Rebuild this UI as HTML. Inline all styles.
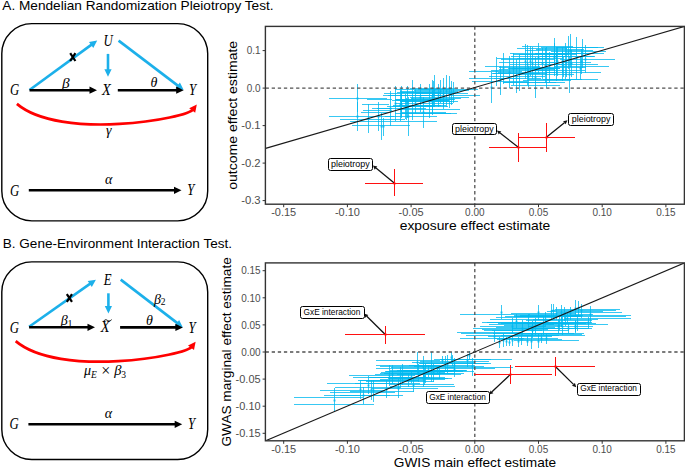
<!DOCTYPE html>
<html><head><meta charset="utf-8"><style>
html,body{margin:0;padding:0;background:#fff;width:685px;height:467px;overflow:hidden}
svg{display:block}
</style></head><body>
<svg width="685" height="467" viewBox="0 0 685 467">
<text x="2.3" y="10.3" font-size="13.4" font-family='"Liberation Sans", sans-serif' fill="#000" text-anchor="start" textLength="271.3" lengthAdjust="spacingAndGlyphs">A. Mendelian Randomization Pleiotropy Test.</text><text x="2.8" y="247.5" font-size="13.4" font-family='"Liberation Sans", sans-serif' fill="#000" text-anchor="start" textLength="229.2" lengthAdjust="spacingAndGlyphs">B. Gene-Environment Interaction Test.</text><rect x="1.8" y="23.6" width="205.9" height="197.3" rx="30" fill="none" stroke="#000" stroke-width="1.4"/><text transform="translate(9.9,94.9) scale(0.8,1)" font-size="16" font-family='"Liberation Serif", serif' font-style="italic">G</text><text transform="translate(103.5,45.6) scale(0.8,1)" font-size="16" font-family='"Liberation Serif", serif' font-style="italic">U</text><text transform="translate(102,94.6) scale(0.9,1)" font-size="16" font-family='"Liberation Serif", serif' font-style="italic">X</text><text transform="translate(189,94.6) scale(0.8,1)" font-size="16" font-family='"Liberation Serif", serif' font-style="italic">Y</text><line x1="29.5" y1="90" x2="91.9" y2="44.4" stroke="#1cb0ea" stroke-width="2.6"/><path d="M97.2 40.6L89.0 42.1L93.3 47.9Z" fill="#1cb0ea"/><line x1="108" y1="53.9" x2="108.0" y2="70.2" stroke="#1cb0ea" stroke-width="2.6"/><path d="M108 76.7L111.6 69.2L104.4 69.2Z" fill="#1cb0ea"/><line x1="118.6" y1="40.6" x2="178.5" y2="86.1" stroke="#1cb0ea" stroke-width="2.6"/><path d="M183.7 90L179.9 82.6L175.5 88.3Z" fill="#1cb0ea"/><line x1="29.5" y1="90.2" x2="90.5" y2="90.2" stroke="#000" stroke-width="2.6"/><path d="M97 90.2L89.5 86.6L89.5 93.8Z" fill="#000"/><line x1="117.8" y1="90.2" x2="177.2" y2="90.2" stroke="#000" stroke-width="2.6"/><path d="M183.7 90.2L176.2 86.6L176.2 93.8Z" fill="#000"/><path d="M70.2 53.2L75.4 61.0M75.4 53.2L70.2 61.0" stroke="#000" stroke-width="2.2"/><text x="62" y="87.6" font-size="15.3" font-family='"Liberation Serif", serif' font-style="italic">β</text><text x="150.5" y="86.8" font-size="14" font-family='"Liberation Serif", serif' font-style="italic">θ</text><path d="M16.9 103.9C60.5 140.8 187.8 118.8 193.5 109" stroke="#f00" stroke-width="2.7" fill="none"/><path d="M196.8 104.6L189.2 108.3L195.2 112.8Z" fill="#f00"/><text x="106" y="135" font-size="14" font-family='"Liberation Serif", serif' font-style="italic">γ</text><text transform="translate(10,195.6) scale(0.8,1)" font-size="16" font-family='"Liberation Serif", serif' font-style="italic">G</text><text transform="translate(187.3,194.8) scale(0.8,1)" font-size="16" font-family='"Liberation Serif", serif' font-style="italic">Y</text><line x1="28.8" y1="190.3" x2="175.0" y2="190.3" stroke="#000" stroke-width="2.6"/><path d="M181.5 190.3L174.0 186.7L174.0 193.9Z" fill="#000"/><text x="105" y="184" font-size="14" font-family='"Liberation Serif", serif' font-style="italic">α</text><rect x="1.8" y="261.90000000000003" width="205.9" height="197.6" rx="30" fill="none" stroke="#000" stroke-width="1.4"/><text transform="translate(9.7,332.5) scale(0.8,1)" font-size="16" font-family='"Liberation Serif", serif' font-style="italic">G</text><text transform="translate(103.7,284.7) scale(0.8,1)" font-size="16" font-family='"Liberation Serif", serif' font-style="italic">E</text><text transform="translate(100.8,332.4) scale(0.9,1)" font-size="16" font-family='"Liberation Serif", serif' font-style="italic">X</text><path d="M103.6 321.6C104.6 319.2 106.4 319.6 107.8 320.6C109 321.4 110.3 320.8 111.6 319.7" stroke="#000" stroke-width="1" fill="none"/><text transform="translate(188.5,332.5) scale(0.8,1)" font-size="16" font-family='"Liberation Serif", serif' font-style="italic">Y</text><line x1="29.1" y1="326.8" x2="90.6" y2="283.4" stroke="#1cb0ea" stroke-width="2.6"/><path d="M95.9 279.7L87.7 281.1L91.8 287.0Z" fill="#1cb0ea"/><line x1="108.4" y1="293.3" x2="108.4" y2="306.9" stroke="#1cb0ea" stroke-width="2.6"/><path d="M108.4 313.4L112.0 305.9L104.8 305.9Z" fill="#1cb0ea"/><line x1="120.7" y1="279.6" x2="177.7" y2="323.4" stroke="#1cb0ea" stroke-width="2.6"/><path d="M182.9 327.4L179.1 320.0L174.8 325.7Z" fill="#1cb0ea"/><line x1="29.1" y1="327.3" x2="88.5" y2="327.3" stroke="#000" stroke-width="2.6"/><path d="M95 327.3L87.5 323.7L87.5 330.9Z" fill="#000"/><line x1="120.1" y1="327.4" x2="176.4" y2="327.4" stroke="#000" stroke-width="2.6"/><path d="M182.9 327.4L175.4 323.8L175.4 331.0Z" fill="#000"/><path d="M66.8 294.1L72.0 301.9M72.0 294.1L66.8 301.9" stroke="#000" stroke-width="2.2"/><text x="60.8" y="324.5" font-size="14" font-family='"Liberation Serif", serif' font-style="italic">β</text><text x="67.5" y="327" font-size="10" font-family='"Liberation Serif", serif'>1</text><text x="154" y="303.5" font-size="14" font-family='"Liberation Serif", serif' font-style="italic">β</text><text x="160.7" y="305" font-size="9.5" font-family='"Liberation Serif", serif'>2</text><text x="146" y="325" font-size="14" font-family='"Liberation Serif", serif' font-style="italic">θ</text><g transform="translate(-1.2,237.2)"><path d="M16.9 103.9C60.5 140.8 187.8 118.8 193.5 109" stroke="#f00" stroke-width="2.7" fill="none"/><path d="M196.8 104.6L189.2 108.3L195.2 112.8Z" fill="#f00"/></g><text x="84" y="375" font-size="14" font-family='"Liberation Serif", serif' font-style="italic">μ</text><text x="91" y="377.5" font-size="9.5" font-family='"Liberation Serif", serif' font-style="italic">E</text><text x="101.3" y="375.6" font-size="16" font-family='"Liberation Serif", serif'>×</text><text x="114.2" y="375" font-size="14.5" font-family='"Liberation Serif", serif' font-style="italic">β</text><text x="121.2" y="377.5" font-size="9.5" font-family='"Liberation Serif", serif'>3</text><text transform="translate(9.5,428.9) scale(0.8,1)" font-size="16" font-family='"Liberation Serif", serif' font-style="italic">G</text><text transform="translate(188,429) scale(0.8,1)" font-size="16" font-family='"Liberation Serif", serif' font-style="italic">Y</text><line x1="28.4" y1="424.3" x2="175.7" y2="424.3" stroke="#000" stroke-width="2.6"/><path d="M182.2 424.3L174.7 420.7L174.7 427.9Z" fill="#000"/><text x="104.8" y="418" font-size="14" font-family='"Liberation Serif", serif' font-style="italic">α</text><clipPath id="ca"><rect x="265.6" y="26.4" width="418.79999999999995" height="177.79999999999998"/></clipPath><g clip-path="url(#ca)"><g stroke="#00b8f0" stroke-width="1" stroke-opacity="0.78" fill="none"><path d="M357.5 84V112"/><path d="M357.5 102V131"/><path d="M368.5 104V133"/><path d="M378.5 102V131"/><path d="M381.5 113V140"/><path d="M383.5 118V136"/><path d="M390.5 91V126"/><path d="M395.5 86V121"/><path d="M401.5 92V118"/><path d="M408.5 97V136"/><path d="M412.5 80V120"/><path d="M415.5 89V113"/><path d="M420.5 84V112"/><path d="M423.5 97V128"/><path d="M429.5 84V118"/><path d="M432.5 80V113"/><path d="M434.5 75V105"/><path d="M438.5 84V107"/><path d="M443.5 86V107"/><path d="M446.5 75V107"/><path d="M449.5 76V108"/><path d="M451.5 81V105"/><path d="M453.5 82V103"/><path d="M432.5 91V115"/><path d="M400.5 89V121"/><path d="M440.5 80V103"/><path d="M401.5 86V116"/><path d="M405.5 94V119"/><path d="M406.5 98V120"/><path d="M433.5 81V106"/><path d="M407.5 86V118"/><path d="M443.5 78V109"/><path d="M395 89.5H451"/><path d="M400 91.5H458"/><path d="M384 93.5H453"/><path d="M420 95.5H480"/><path d="M388 95.5H440"/><path d="M410 97.5H469"/><path d="M329 98.5H387"/><path d="M395 99.5H455"/><path d="M367 99.5H392"/><path d="M400 101.5H458"/><path d="M395 103.5H453"/><path d="M362 104.5H389"/><path d="M392 106.5H448"/><path d="M372 108.5H392"/><path d="M400 109.5H460"/><path d="M363 110.5H392"/><path d="M361 112.5H388"/><path d="M395 113.5H451"/><path d="M329 116.5H394"/><path d="M385 116.5H437"/><path d="M340 119.5H405"/><path d="M350 121.5H437"/><path d="M352 125.5H410"/><path d="M395 99.5H454"/><path d="M396 100.5H449"/><path d="M402 92.5H456"/><path d="M377 108.5H426"/><path d="M414 90.5H469"/><path d="M418 89.5H478"/><path d="M399 105.5H446"/><path d="M410 88.5H455"/><path d="M397 92.5H441"/><path d="M392 100.5H449"/><path d="M400 101.5H452"/><path d="M393 105.5H441"/><path d="M400 113.5H457"/><path d="M387 106.5H435"/><path d="M383 95.5H439"/><path d="M411 98.5H461"/><path d="M402 112.5H446"/><path d="M416 93.5H468"/></g><g fill="#00b8f0" fill-opacity="0.78"><rect x="356.5" y="97.5" width="2" height="2"/><rect x="356.5" y="115.5" width="2" height="2"/><rect x="367.5" y="117.5" width="2" height="2"/><rect x="377.5" y="115.5" width="2" height="2"/><rect x="380.5" y="125.5" width="2" height="2"/><rect x="382.5" y="125.5" width="2" height="2"/><rect x="389.5" y="107.5" width="2" height="2"/><rect x="394.5" y="102.5" width="2" height="2"/><rect x="400.5" y="103.5" width="2" height="2"/><rect x="407.5" y="115.5" width="2" height="2"/><rect x="411.5" y="98.5" width="2" height="2"/><rect x="414.5" y="100.5" width="2" height="2"/><rect x="419.5" y="96.5" width="2" height="2"/><rect x="422.5" y="111.5" width="2" height="2"/><rect x="428.5" y="100.5" width="2" height="2"/><rect x="431.5" y="95.5" width="2" height="2"/><rect x="433.5" y="88.5" width="2" height="2"/><rect x="437.5" y="94.5" width="2" height="2"/><rect x="442.5" y="95.5" width="2" height="2"/><rect x="445.5" y="90.5" width="2" height="2"/><rect x="448.5" y="91.5" width="2" height="2"/><rect x="450.5" y="92.5" width="2" height="2"/><rect x="452.5" y="91.5" width="2" height="2"/><rect x="431.5" y="101.5" width="2" height="2"/><rect x="399.5" y="103.5" width="2" height="2"/><rect x="439.5" y="90.5" width="2" height="2"/><rect x="400.5" y="99.5" width="2" height="2"/><rect x="404.5" y="105.5" width="2" height="2"/><rect x="405.5" y="107.5" width="2" height="2"/><rect x="432.5" y="92.5" width="2" height="2"/><rect x="406.5" y="101.5" width="2" height="2"/><rect x="442.5" y="92.5" width="2" height="2"/></g><g stroke="#00b8f0" stroke-width="1" stroke-opacity="0.78" fill="none"><path d="M491.5 72V103"/><path d="M496.5 57V86"/><path d="M500.5 66V95"/><path d="M509.5 56V88"/><path d="M513.5 53V85"/><path d="M516.5 59V93"/><path d="M519.5 55V91"/><path d="M525.5 44V79"/><path d="M527.5 45V85"/><path d="M530.5 46V76"/><path d="M532.5 47V79"/><path d="M535.5 57V98"/><path d="M538.5 43V73"/><path d="M542.5 48V79"/><path d="M545.5 48V83"/><path d="M546.5 47V88"/><path d="M554.5 38V76"/><path d="M556.5 54V81"/><path d="M562.5 47V81"/><path d="M565.5 43V79"/><path d="M568.5 36V69"/><path d="M569.5 56V93"/><path d="M570.5 34V67"/><path d="M576.5 37V79"/><path d="M580.5 57V79"/><path d="M585.5 45V73"/><path d="M562.5 51V73"/><path d="M503.5 53V84"/><path d="M563.5 57V77"/><path d="M557.5 47V76"/><path d="M528.5 66V87"/><path d="M549.5 52V83"/><path d="M566.5 48V77"/><path d="M582.5 39V68"/><path d="M581.5 49V74"/><path d="M571.5 50V77"/><path d="M556.5 47V74"/><path d="M554.5 43V71"/><path d="M541 47.5H598"/><path d="M525 50.5H593"/><path d="M551 51.5H606"/><path d="M510 53.5H565"/><path d="M535 53.5H590"/><path d="M511 56.5H565"/><path d="M540 56.5H595"/><path d="M497 58.5H550"/><path d="M501 59.5H555"/><path d="M560 59.5H615"/><path d="M499 62.5H555"/><path d="M536 62.5H591"/><path d="M510 64.5H565"/><path d="M545 64.5H598"/><path d="M485 66.5H540"/><path d="M555 66.5H609"/><path d="M499 69.5H555"/><path d="M530 70.5H585"/><path d="M469 71.5H522"/><path d="M546 72.5H601"/><path d="M492 73.5H547"/><path d="M520 74.5H574"/><path d="M489 76.5H545"/><path d="M469 78.5H520"/><path d="M543 79.5H598"/><path d="M472 81.5H527"/><path d="M503 82.5H565"/><path d="M511 85.5H560"/><path d="M519 54.5H577"/><path d="M491 70.5H550"/><path d="M513 54.5H569"/><path d="M517 58.5H562"/><path d="M536 49.5H584"/><path d="M509 68.5H560"/><path d="M503 82.5H556"/><path d="M494 78.5H541"/><path d="M523 80.5H571"/><path d="M535 53.5H594"/><path d="M546 53.5H604"/><path d="M514 68.5H560"/><path d="M556 47.5H604"/><path d="M498 72.5H555"/><path d="M508 68.5H555"/><path d="M493 73.5H540"/><path d="M532 67.5H586"/><path d="M547 56.5H594"/><path d="M522 46.5H573"/><path d="M517 48.5H567"/><path d="M499 67.5H549"/><path d="M528 79.5H582"/></g><g fill="#00b8f0" fill-opacity="0.78"><rect x="490.5" y="86.5" width="2" height="2"/><rect x="495.5" y="70.5" width="2" height="2"/><rect x="499.5" y="79.5" width="2" height="2"/><rect x="508.5" y="71.5" width="2" height="2"/><rect x="512.5" y="67.5" width="2" height="2"/><rect x="515.5" y="75.5" width="2" height="2"/><rect x="518.5" y="72.5" width="2" height="2"/><rect x="524.5" y="60.5" width="2" height="2"/><rect x="526.5" y="63.5" width="2" height="2"/><rect x="529.5" y="60.5" width="2" height="2"/><rect x="531.5" y="62.5" width="2" height="2"/><rect x="534.5" y="76.5" width="2" height="2"/><rect x="537.5" y="56.5" width="2" height="2"/><rect x="541.5" y="62.5" width="2" height="2"/><rect x="544.5" y="64.5" width="2" height="2"/><rect x="545.5" y="66.5" width="2" height="2"/><rect x="553.5" y="56.5" width="2" height="2"/><rect x="555.5" y="66.5" width="2" height="2"/><rect x="561.5" y="63.5" width="2" height="2"/><rect x="564.5" y="60.5" width="2" height="2"/><rect x="567.5" y="51.5" width="2" height="2"/><rect x="568.5" y="73.5" width="2" height="2"/><rect x="569.5" y="49.5" width="2" height="2"/><rect x="575.5" y="57.5" width="2" height="2"/><rect x="579.5" y="67.5" width="2" height="2"/><rect x="584.5" y="58.5" width="2" height="2"/><rect x="561.5" y="60.5" width="2" height="2"/><rect x="502.5" y="67.5" width="2" height="2"/><rect x="562.5" y="65.5" width="2" height="2"/><rect x="556.5" y="60.5" width="2" height="2"/><rect x="527.5" y="75.5" width="2" height="2"/><rect x="548.5" y="66.5" width="2" height="2"/><rect x="565.5" y="61.5" width="2" height="2"/><rect x="581.5" y="52.5" width="2" height="2"/><rect x="580.5" y="60.5" width="2" height="2"/><rect x="570.5" y="62.5" width="2" height="2"/><rect x="555.5" y="59.5" width="2" height="2"/><rect x="553.5" y="55.5" width="2" height="2"/></g><line x1="265.6" y1="88.1" x2="684.4" y2="88.1" stroke="#505050" stroke-width="1.3" stroke-dasharray="3.3 2.8"/><line x1="474.8" y1="26.4" x2="474.8" y2="204.2" stroke="#505050" stroke-width="1.3" stroke-dasharray="3.3 2.8"/><line x1="265.6" y1="148.4" x2="684.4" y2="26.4" stroke="#1a1a1a" stroke-width="1.1"/><line x1="394.5" y1="183.2" x2="376.0" y2="168.1" stroke="#111" stroke-width="1.25"/><path d="M372.9 165.6L374.7 169.7L377.3 166.6Z" fill="#111"/><line x1="518" y1="147" x2="500.1" y2="133.1" stroke="#111" stroke-width="1.25"/><path d="M496.9 130.6L498.8 134.6L501.3 131.5Z" fill="#111"/><line x1="546.4" y1="137.3" x2="564.4" y2="122.7" stroke="#111" stroke-width="1.25"/><path d="M567.5 120.2L563.1 121.2L565.7 124.3Z" fill="#111"/><path d="M365 183.5H423M394.5 169V196" stroke="#ff1010" stroke-width="1" fill="none"/><rect x="393.5" y="182.5" width="2" height="2" fill="#ff1010"/><path d="M489 147.5H546M518.5 133V162" stroke="#ff1010" stroke-width="1" fill="none"/><rect x="517.5" y="146.5" width="2" height="2" fill="#ff1010"/><path d="M518 137.5H575M546.5 123V152" stroke="#ff1010" stroke-width="1" fill="none"/><rect x="545.5" y="136.5" width="2" height="2" fill="#ff1010"/><rect x="328.5" y="158.5" width="44" height="12" rx="2" fill="#fff" stroke="#000" stroke-width="1"/><text x="331.0" y="166.9" font-size="8.6" font-family='"Liberation Sans", sans-serif' fill="#000" text-anchor="start" textLength="38.6" lengthAdjust="spacingAndGlyphs">pleiotropy</text><rect x="452.5" y="123.5" width="44" height="11" rx="2" fill="#fff" stroke="#000" stroke-width="1"/><text x="455.0" y="131.6" font-size="8.6" font-family='"Liberation Sans", sans-serif' fill="#000" text-anchor="start" textLength="38.6" lengthAdjust="spacingAndGlyphs">pleiotropy</text><rect x="568.5" y="113.5" width="45" height="12" rx="2" fill="#fff" stroke="#000" stroke-width="1"/><text x="571.8" y="121.9" font-size="8.6" font-family='"Liberation Sans", sans-serif' fill="#000" text-anchor="start" textLength="38.6" lengthAdjust="spacingAndGlyphs">pleiotropy</text></g><rect x="265.40000000000003" y="26.4" width="418.99999999999994" height="177.79999999999998" fill="none" stroke="#333" stroke-width="1.4"/><line x1="262.6" y1="50.6" x2="265.6" y2="50.6" stroke="#333" stroke-width="1"/><text x="260.6" y="54.3" font-size="10" font-family='"Liberation Sans", sans-serif' fill="#4d4d4d" text-anchor="end" textLength="13.799999999999999" lengthAdjust="spacingAndGlyphs">0.1</text><line x1="262.6" y1="88.1" x2="265.6" y2="88.1" stroke="#333" stroke-width="1"/><text x="260.6" y="91.8" font-size="10" font-family='"Liberation Sans", sans-serif' fill="#4d4d4d" text-anchor="end" textLength="13.799999999999999" lengthAdjust="spacingAndGlyphs">0.0</text><line x1="262.6" y1="125.6" x2="265.6" y2="125.6" stroke="#333" stroke-width="1"/><text x="260.6" y="129.3" font-size="10" font-family='"Liberation Sans", sans-serif' fill="#4d4d4d" text-anchor="end" textLength="19.4" lengthAdjust="spacingAndGlyphs">-0.1</text><line x1="262.6" y1="163.1" x2="265.6" y2="163.1" stroke="#333" stroke-width="1"/><text x="260.6" y="166.8" font-size="10" font-family='"Liberation Sans", sans-serif' fill="#4d4d4d" text-anchor="end" textLength="19.4" lengthAdjust="spacingAndGlyphs">-0.2</text><line x1="262.6" y1="200.6" x2="265.6" y2="200.6" stroke="#333" stroke-width="1"/><text x="260.6" y="204.3" font-size="10" font-family='"Liberation Sans", sans-serif' fill="#4d4d4d" text-anchor="end" textLength="19.4" lengthAdjust="spacingAndGlyphs">-0.3</text><line x1="283.7" y1="204.2" x2="283.7" y2="207.2" stroke="#333" stroke-width="1"/><text x="283.7" y="215.9" font-size="10" font-family='"Liberation Sans", sans-serif' fill="#4d4d4d" text-anchor="middle" textLength="25.0" lengthAdjust="spacingAndGlyphs">-0.15</text><line x1="347.4" y1="204.2" x2="347.4" y2="207.2" stroke="#333" stroke-width="1"/><text x="347.4" y="215.9" font-size="10" font-family='"Liberation Sans", sans-serif' fill="#4d4d4d" text-anchor="middle" textLength="25.0" lengthAdjust="spacingAndGlyphs">-0.10</text><line x1="411.1" y1="204.2" x2="411.1" y2="207.2" stroke="#333" stroke-width="1"/><text x="411.1" y="215.9" font-size="10" font-family='"Liberation Sans", sans-serif' fill="#4d4d4d" text-anchor="middle" textLength="25.0" lengthAdjust="spacingAndGlyphs">-0.05</text><line x1="474.8" y1="204.2" x2="474.8" y2="207.2" stroke="#333" stroke-width="1"/><text x="474.8" y="215.9" font-size="10" font-family='"Liberation Sans", sans-serif' fill="#4d4d4d" text-anchor="middle" textLength="19.4" lengthAdjust="spacingAndGlyphs">0.00</text><line x1="538.5" y1="204.2" x2="538.5" y2="207.2" stroke="#333" stroke-width="1"/><text x="538.5" y="215.9" font-size="10" font-family='"Liberation Sans", sans-serif' fill="#4d4d4d" text-anchor="middle" textLength="19.4" lengthAdjust="spacingAndGlyphs">0.05</text><line x1="602.2" y1="204.2" x2="602.2" y2="207.2" stroke="#333" stroke-width="1"/><text x="602.2" y="215.9" font-size="10" font-family='"Liberation Sans", sans-serif' fill="#4d4d4d" text-anchor="middle" textLength="19.4" lengthAdjust="spacingAndGlyphs">0.10</text><line x1="665.9" y1="204.2" x2="665.9" y2="207.2" stroke="#333" stroke-width="1"/><text x="665.9" y="215.9" font-size="10" font-family='"Liberation Sans", sans-serif' fill="#4d4d4d" text-anchor="middle" textLength="19.4" lengthAdjust="spacingAndGlyphs">0.15</text><text x="0" y="0" transform="translate(236.6,115.3) rotate(-90)" font-size="12.6" font-family='"Liberation Sans", sans-serif' text-anchor="middle" textLength="149" lengthAdjust="spacingAndGlyphs">outcome effect estimate</text><text x="475" y="230.4" font-size="12.6" font-family='"Liberation Sans", sans-serif' fill="#000" text-anchor="middle" textLength="150.6" lengthAdjust="spacingAndGlyphs">exposure effect estimate</text><clipPath id="cb"><rect x="265.6" y="262.9" width="418.79999999999995" height="177.90000000000003"/></clipPath><g clip-path="url(#cb)"><g stroke="#00b8f0" stroke-width="1" stroke-opacity="0.78" fill="none"><path d="M334.5 388V412"/><path d="M360.5 381V399"/><path d="M363.5 387V404"/><path d="M368.5 376V394"/><path d="M371.5 380V400"/><path d="M373.5 380V402"/><path d="M386.5 380V398"/><path d="M389.5 365V386"/><path d="M392.5 365V384"/><path d="M398.5 379V398"/><path d="M400.5 367V388"/><path d="M402.5 364V385"/><path d="M413.5 379V392"/><path d="M417.5 352V373"/><path d="M418.5 364V382"/><path d="M423.5 356V379"/><path d="M425.5 364V383"/><path d="M431.5 352V382"/><path d="M433.5 364V382"/><path d="M437.5 367V374"/><path d="M442.5 356V364"/><path d="M447.5 355V373"/><path d="M451.5 352V364"/><path d="M454.5 362V377"/><path d="M469.5 351V360"/><path d="M472.5 358V376"/><path d="M467.5 354V367"/><path d="M454.5 358V372"/><path d="M445.5 356V370"/><path d="M423.5 370V387"/><path d="M411.5 372V383"/><path d="M424.5 368V385"/><path d="M428.5 365V377"/><path d="M439.5 368V379"/><path d="M452.5 355V366"/><path d="M408.5 374V387"/><path d="M440 359.5H512"/><path d="M376 360.5H440"/><path d="M420 361.5H489"/><path d="M412 362.5H475"/><path d="M420 363.5H488"/><path d="M409 365.5H475"/><path d="M376 365.5H440"/><path d="M380 366.5H445"/><path d="M445 367.5H513"/><path d="M376 368.5H440"/><path d="M430 368.5H495"/><path d="M400 370.5H466"/><path d="M390 370.5H455"/><path d="M410 371.5H474"/><path d="M380 373.5H445"/><path d="M400 373.5H464"/><path d="M375 374.5H440"/><path d="M349 375.5H415"/><path d="M353 377.5H420"/><path d="M380 377.5H445"/><path d="M380 379.5H445"/><path d="M360 380.5H425"/><path d="M355 383.5H420"/><path d="M327 383.5H395"/><path d="M390 384.5H454"/><path d="M390 386.5H455"/><path d="M335 387.5H400"/><path d="M372 388.5H438"/><path d="M320 390.5H385"/><path d="M350 391.5H414"/><path d="M330 392.5H395"/><path d="M340 395.5H403"/><path d="M324 395.5H390"/><path d="M294 397.5H363"/><path d="M294 404.5H374"/><path d="M419 363.5H491"/><path d="M366 381.5H434"/><path d="M414 366.5H484"/><path d="M391 367.5H454"/><path d="M400 371.5H463"/><path d="M434 359.5H491"/><path d="M369 377.5H430"/><path d="M370 377.5H428"/><path d="M397 370.5H467"/><path d="M397 374.5H461"/><path d="M358 380.5H418"/><path d="M385 371.5H452"/><path d="M384 373.5H454"/><path d="M386 371.5H448"/><path d="M389 378.5H448"/><path d="M388 378.5H452"/><path d="M381 372.5H445"/><path d="M401 370.5H457"/></g><g fill="#00b8f0" fill-opacity="0.78"><rect x="333.5" y="399.5" width="2" height="2"/><rect x="359.5" y="388.5" width="2" height="2"/><rect x="362.5" y="394.5" width="2" height="2"/><rect x="367.5" y="384.5" width="2" height="2"/><rect x="370.5" y="388.5" width="2" height="2"/><rect x="372.5" y="389.5" width="2" height="2"/><rect x="385.5" y="388.5" width="2" height="2"/><rect x="388.5" y="374.5" width="2" height="2"/><rect x="391.5" y="373.5" width="2" height="2"/><rect x="397.5" y="387.5" width="2" height="2"/><rect x="399.5" y="376.5" width="2" height="2"/><rect x="401.5" y="373.5" width="2" height="2"/><rect x="412.5" y="384.5" width="2" height="2"/><rect x="416.5" y="361.5" width="2" height="2"/><rect x="417.5" y="371.5" width="2" height="2"/><rect x="422.5" y="366.5" width="2" height="2"/><rect x="424.5" y="372.5" width="2" height="2"/><rect x="430.5" y="365.5" width="2" height="2"/><rect x="432.5" y="371.5" width="2" height="2"/><rect x="436.5" y="369.5" width="2" height="2"/><rect x="441.5" y="359.5" width="2" height="2"/><rect x="446.5" y="363.5" width="2" height="2"/><rect x="450.5" y="356.5" width="2" height="2"/><rect x="453.5" y="368.5" width="2" height="2"/><rect x="468.5" y="354.5" width="2" height="2"/><rect x="471.5" y="365.5" width="2" height="2"/><rect x="466.5" y="359.5" width="2" height="2"/><rect x="453.5" y="364.5" width="2" height="2"/><rect x="444.5" y="362.5" width="2" height="2"/><rect x="422.5" y="377.5" width="2" height="2"/><rect x="410.5" y="376.5" width="2" height="2"/><rect x="423.5" y="375.5" width="2" height="2"/><rect x="427.5" y="369.5" width="2" height="2"/><rect x="438.5" y="372.5" width="2" height="2"/><rect x="451.5" y="359.5" width="2" height="2"/><rect x="407.5" y="379.5" width="2" height="2"/></g><g stroke="#00b8f0" stroke-width="1" stroke-opacity="0.78" fill="none"><path d="M501.5 305V319"/><path d="M499.5 337V348"/><path d="M506.5 337V346"/><path d="M509.5 339V346"/><path d="M518.5 337V347"/><path d="M538.5 305V320"/><path d="M538.5 334V348"/><path d="M541.5 334V343"/><path d="M551.5 304V319"/><path d="M553.5 304V318"/><path d="M556.5 307V320"/><path d="M561.5 305V319"/><path d="M564.5 307V321"/><path d="M568.5 324V333"/><path d="M570.5 307V320"/><path d="M575.5 300V316"/><path d="M578.5 301V316"/><path d="M581.5 304V318"/><path d="M590.5 306V323"/><path d="M512.5 318V334"/><path d="M522.5 320V336"/><path d="M528.5 315V331"/><path d="M545.5 312V327"/><path d="M532.5 322V338"/><path d="M559.5 315V330"/><path d="M562.5 317V335"/><path d="M565.5 312V326"/><path d="M516.5 314V328"/><path d="M567.5 312V324"/><path d="M532.5 321V335"/><path d="M558.5 319V333"/><path d="M575.5 321V332"/><path d="M588.5 317V328"/><path d="M543.5 317V335"/><path d="M535.5 318V335"/><path d="M575.5 320V333"/><path d="M561.5 311V327"/><path d="M577.5 315V331"/><path d="M503.5 334V347"/><path d="M512.5 335V346"/><path d="M521.5 333V345"/><path d="M527.5 336V346"/><path d="M531.5 334V349"/><path d="M546.5 333V344"/><path d="M494.5 330V342"/><path d="M555 309.5H620"/><path d="M551 310.5H616"/><path d="M557 312.5H622"/><path d="M511 313.5H576"/><path d="M460 314.5H530"/><path d="M528 314.5H593"/><path d="M566 315.5H631"/><path d="M517 316.5H582"/><path d="M560 316.5H626"/><path d="M565 318.5H631"/><path d="M490 319.5H555"/><path d="M533 319.5H598"/><path d="M482 322.5H547"/><path d="M524 322.5H589"/><path d="M489 324.5H554"/><path d="M543 324.5H608"/><path d="M480 326.5H545"/><path d="M528 326.5H593"/><path d="M473 328.5H538"/><path d="M524 328.5H589"/><path d="M492 330.5H569"/><path d="M457 332.5H522"/><path d="M461 333.5H526"/><path d="M517 334.5H582"/><path d="M466 335.5H531"/><path d="M488 336.5H552"/><path d="M460 338.5H524"/><path d="M494 338.5H558"/><path d="M497 339.5H562"/><path d="M514 340.5H579"/><path d="M517 335.5H585"/><path d="M526 320.5H592"/><path d="M534 322.5H592"/><path d="M482 329.5H548"/><path d="M498 323.5H565"/><path d="M515 323.5H586"/><path d="M496 317.5H557"/><path d="M496 327.5H555"/><path d="M511 333.5H574"/><path d="M493 333.5H559"/><path d="M514 315.5H583"/><path d="M522 333.5H584"/><path d="M504 325.5H562"/><path d="M527 323.5H596"/><path d="M532 328.5H592"/><path d="M520 315.5H581"/><path d="M514 316.5H580"/><path d="M501 323.5H570"/><path d="M501 335.5H559"/><path d="M547 311.5H603"/><path d="M512 328.5H573"/><path d="M484 330.5H542"/><path d="M487 322.5H557"/><path d="M505 316.5H561"/></g><g fill="#00b8f0" fill-opacity="0.78"><rect x="500.5" y="311.5" width="2" height="2"/><rect x="498.5" y="341.5" width="2" height="2"/><rect x="505.5" y="340.5" width="2" height="2"/><rect x="508.5" y="341.5" width="2" height="2"/><rect x="517.5" y="340.5" width="2" height="2"/><rect x="537.5" y="311.5" width="2" height="2"/><rect x="537.5" y="340.5" width="2" height="2"/><rect x="540.5" y="337.5" width="2" height="2"/><rect x="550.5" y="310.5" width="2" height="2"/><rect x="552.5" y="309.5" width="2" height="2"/><rect x="555.5" y="312.5" width="2" height="2"/><rect x="560.5" y="311.5" width="2" height="2"/><rect x="563.5" y="312.5" width="2" height="2"/><rect x="567.5" y="327.5" width="2" height="2"/><rect x="569.5" y="312.5" width="2" height="2"/><rect x="574.5" y="307.5" width="2" height="2"/><rect x="577.5" y="307.5" width="2" height="2"/><rect x="580.5" y="309.5" width="2" height="2"/><rect x="589.5" y="313.5" width="2" height="2"/><rect x="511.5" y="325.5" width="2" height="2"/><rect x="521.5" y="327.5" width="2" height="2"/><rect x="527.5" y="322.5" width="2" height="2"/><rect x="544.5" y="318.5" width="2" height="2"/><rect x="531.5" y="329.5" width="2" height="2"/><rect x="558.5" y="321.5" width="2" height="2"/><rect x="561.5" y="325.5" width="2" height="2"/><rect x="564.5" y="317.5" width="2" height="2"/><rect x="515.5" y="320.5" width="2" height="2"/><rect x="566.5" y="317.5" width="2" height="2"/><rect x="531.5" y="326.5" width="2" height="2"/><rect x="557.5" y="325.5" width="2" height="2"/><rect x="574.5" y="325.5" width="2" height="2"/><rect x="587.5" y="321.5" width="2" height="2"/><rect x="542.5" y="324.5" width="2" height="2"/><rect x="534.5" y="325.5" width="2" height="2"/><rect x="574.5" y="325.5" width="2" height="2"/><rect x="560.5" y="318.5" width="2" height="2"/><rect x="576.5" y="321.5" width="2" height="2"/><rect x="502.5" y="339.5" width="2" height="2"/><rect x="511.5" y="339.5" width="2" height="2"/><rect x="520.5" y="338.5" width="2" height="2"/><rect x="526.5" y="340.5" width="2" height="2"/><rect x="530.5" y="340.5" width="2" height="2"/><rect x="545.5" y="337.5" width="2" height="2"/><rect x="493.5" y="335.5" width="2" height="2"/></g><line x1="265.6" y1="352.0" x2="684.4" y2="352.0" stroke="#505050" stroke-width="1.3" stroke-dasharray="3.3 2.8"/><line x1="474.8" y1="262.9" x2="474.8" y2="440.8" stroke="#505050" stroke-width="1.3" stroke-dasharray="3.3 2.8"/><line x1="265.6" y1="440.8" x2="684.4" y2="262.9" stroke="#1a1a1a" stroke-width="1.1"/><line x1="385" y1="334.2" x2="366.8" y2="316.3" stroke="#111" stroke-width="1.25"/><path d="M364.0 313.5L365.4 317.7L368.3 314.9Z" fill="#111"/><line x1="510.4" y1="374.4" x2="492.0" y2="391.8" stroke="#111" stroke-width="1.25"/><path d="M489.1 394.6L493.4 393.3L490.6 390.4Z" fill="#111"/><line x1="555.1" y1="366.3" x2="573.5" y2="384.4" stroke="#111" stroke-width="1.25"/><path d="M576.3 387.2L574.9 383.0L572.0 385.8Z" fill="#111"/><path d="M345 334.5H425M385.5 326V344" stroke="#ff1010" stroke-width="1" fill="none"/><rect x="384.5" y="333.5" width="2" height="2" fill="#ff1010"/><path d="M474 374.5H552M510.5 365V384" stroke="#ff1010" stroke-width="1" fill="none"/><rect x="509.5" y="373.5" width="2" height="2" fill="#ff1010"/><path d="M515 366.5H595M555.5 357V376" stroke="#ff1010" stroke-width="1" fill="none"/><rect x="554.5" y="365.5" width="2" height="2" fill="#ff1010"/><rect x="300.5" y="306.5" width="64" height="12" rx="2" fill="#fff" stroke="#000" stroke-width="1"/><text x="303.6" y="314.7" font-size="8.6" font-family='"Liberation Sans", sans-serif' fill="#000" text-anchor="start" textLength="56.7" lengthAdjust="spacingAndGlyphs">GxE interaction</text><rect x="426.5" y="391.5" width="63" height="12" rx="2" fill="#fff" stroke="#000" stroke-width="1"/><text x="429.2" y="399.6" font-size="8.6" font-family='"Liberation Sans", sans-serif' fill="#000" text-anchor="start" textLength="56.7" lengthAdjust="spacingAndGlyphs">GxE interaction</text><rect x="577.5" y="383.5" width="63" height="12" rx="2" fill="#fff" stroke="#000" stroke-width="1"/><text x="580.2" y="391.4" font-size="8.6" font-family='"Liberation Sans", sans-serif' fill="#000" text-anchor="start" textLength="56.7" lengthAdjust="spacingAndGlyphs">GxE interaction</text></g><rect x="265.40000000000003" y="262.9" width="418.99999999999994" height="177.90000000000003" fill="none" stroke="#333" stroke-width="1.4"/><line x1="262.6" y1="270.7" x2="265.6" y2="270.7" stroke="#333" stroke-width="1"/><text x="260.6" y="274.4" font-size="10" font-family='"Liberation Sans", sans-serif' fill="#4d4d4d" text-anchor="end" textLength="19.4" lengthAdjust="spacingAndGlyphs">0.15</text><line x1="262.6" y1="297.8" x2="265.6" y2="297.8" stroke="#333" stroke-width="1"/><text x="260.6" y="301.5" font-size="10" font-family='"Liberation Sans", sans-serif' fill="#4d4d4d" text-anchor="end" textLength="19.4" lengthAdjust="spacingAndGlyphs">0.10</text><line x1="262.6" y1="324.9" x2="265.6" y2="324.9" stroke="#333" stroke-width="1"/><text x="260.6" y="328.6" font-size="10" font-family='"Liberation Sans", sans-serif' fill="#4d4d4d" text-anchor="end" textLength="19.4" lengthAdjust="spacingAndGlyphs">0.05</text><line x1="262.6" y1="352.0" x2="265.6" y2="352.0" stroke="#333" stroke-width="1"/><text x="260.6" y="355.7" font-size="10" font-family='"Liberation Sans", sans-serif' fill="#4d4d4d" text-anchor="end" textLength="19.4" lengthAdjust="spacingAndGlyphs">0.00</text><line x1="262.6" y1="379.1" x2="265.6" y2="379.1" stroke="#333" stroke-width="1"/><text x="260.6" y="382.8" font-size="10" font-family='"Liberation Sans", sans-serif' fill="#4d4d4d" text-anchor="end" textLength="25.0" lengthAdjust="spacingAndGlyphs">-0.05</text><line x1="262.6" y1="406.2" x2="265.6" y2="406.2" stroke="#333" stroke-width="1"/><text x="260.6" y="409.9" font-size="10" font-family='"Liberation Sans", sans-serif' fill="#4d4d4d" text-anchor="end" textLength="25.0" lengthAdjust="spacingAndGlyphs">-0.10</text><line x1="262.6" y1="433.3" x2="265.6" y2="433.3" stroke="#333" stroke-width="1"/><text x="260.6" y="437.0" font-size="10" font-family='"Liberation Sans", sans-serif' fill="#4d4d4d" text-anchor="end" textLength="25.0" lengthAdjust="spacingAndGlyphs">-0.15</text><line x1="283.7" y1="440.8" x2="283.7" y2="443.8" stroke="#333" stroke-width="1"/><text x="283.7" y="452.5" font-size="10" font-family='"Liberation Sans", sans-serif' fill="#4d4d4d" text-anchor="middle" textLength="25.0" lengthAdjust="spacingAndGlyphs">-0.15</text><line x1="347.4" y1="440.8" x2="347.4" y2="443.8" stroke="#333" stroke-width="1"/><text x="347.4" y="452.5" font-size="10" font-family='"Liberation Sans", sans-serif' fill="#4d4d4d" text-anchor="middle" textLength="25.0" lengthAdjust="spacingAndGlyphs">-0.10</text><line x1="411.1" y1="440.8" x2="411.1" y2="443.8" stroke="#333" stroke-width="1"/><text x="411.1" y="452.5" font-size="10" font-family='"Liberation Sans", sans-serif' fill="#4d4d4d" text-anchor="middle" textLength="25.0" lengthAdjust="spacingAndGlyphs">-0.05</text><line x1="474.8" y1="440.8" x2="474.8" y2="443.8" stroke="#333" stroke-width="1"/><text x="474.8" y="452.5" font-size="10" font-family='"Liberation Sans", sans-serif' fill="#4d4d4d" text-anchor="middle" textLength="19.4" lengthAdjust="spacingAndGlyphs">0.00</text><line x1="538.5" y1="440.8" x2="538.5" y2="443.8" stroke="#333" stroke-width="1"/><text x="538.5" y="452.5" font-size="10" font-family='"Liberation Sans", sans-serif' fill="#4d4d4d" text-anchor="middle" textLength="19.4" lengthAdjust="spacingAndGlyphs">0.05</text><line x1="602.2" y1="440.8" x2="602.2" y2="443.8" stroke="#333" stroke-width="1"/><text x="602.2" y="452.5" font-size="10" font-family='"Liberation Sans", sans-serif' fill="#4d4d4d" text-anchor="middle" textLength="19.4" lengthAdjust="spacingAndGlyphs">0.10</text><line x1="665.9" y1="440.8" x2="665.9" y2="443.8" stroke="#333" stroke-width="1"/><text x="665.9" y="452.5" font-size="10" font-family='"Liberation Sans", sans-serif' fill="#4d4d4d" text-anchor="middle" textLength="19.4" lengthAdjust="spacingAndGlyphs">0.15</text><text x="0" y="0" transform="translate(231.3,351.9) rotate(-90)" font-size="12.6" font-family='"Liberation Sans", sans-serif' text-anchor="middle" textLength="189.3" lengthAdjust="spacingAndGlyphs">GWAS marginal effect estimate</text><text x="475" y="466.9" font-size="12.6" font-family='"Liberation Sans", sans-serif' fill="#000" text-anchor="middle" textLength="162.3" lengthAdjust="spacingAndGlyphs">GWIS main effect estimate</text>
</svg>
</body></html>
